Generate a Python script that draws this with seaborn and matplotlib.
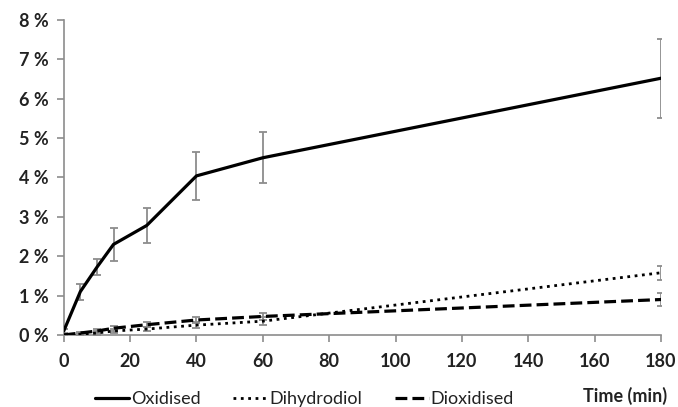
import numpy as np
import pandas as pd
import matplotlib
matplotlib.use('Agg')
import matplotlib.pyplot as plt
import seaborn as sns
from matplotlib.ticker import FuncFormatter

# time points (min)
time = [0, 5, 10, 15, 25, 40, 60, 180]

# percentages
oxidised = [0.1, 1.1, 1.72, 2.3, 2.78, 4.04, 4.5, 6.52]
oxidised_err = [0.05, 0.2, 0.2, 0.42, 0.45, 0.6, 0.65, 1.0]
dihydrodiol = [0.0, 0.02, 0.05, 0.1, 0.15, 0.25, 0.35, 1.58]
dihydrodiol_err = [0.02, 0.03, 0.04, 0.05, 0.06, 0.08, 0.1, 0.18]
dioxidised = [0.0, 0.05, 0.1, 0.17, 0.26, 0.38, 0.47, 0.9]
dioxidised_err = [0.02, 0.03, 0.04, 0.06, 0.07, 0.08, 0.1, 0.16]

series = ['Oxidised', 'Dihydrodiol', 'Dioxidised']

df = pd.DataFrame({
    'time': time * 3,
    'value': oxidised + dihydrodiol + dioxidised,
    'err': oxidised_err + dihydrodiol_err + dioxidised_err,
    'series': [s for s in series for _ in time],
})

sns.set_style('white')
plt.rcParams['font.family'] = ['Lato', 'DejaVu Sans']

fig = plt.figure(figsize=(6.78, 4.07), dpi=100)
ax = fig.add_axes([0.094, 0.177, 0.881, 0.774])

styles = {'Oxidised': '-', 'Dihydrodiol': ':', 'Dioxidised': '--'}
widths = {'Oxidised': 2.3, 'Dihydrodiol': 2.0, 'Dioxidised': 2.3}

# grey error bars under the black lines
for s in series:
    sub = df[df['series'] == s]
    ax.errorbar(sub['time'], sub['value'], yerr=sub['err'], fmt='none',
                ecolor='#8c8c8c', elinewidth=1.3, capsize=2.7, capthick=1.3, zorder=2)

for s in series:
    sub = df[df['series'] == s]
    sns.lineplot(data=sub, x='time', y='value', ax=ax, color='black',
                 linestyle=styles[s], linewidth=widths[s], label=s, zorder=3)

ax.set_xlim(0, 180)
ax.set_ylim(0, 8)
ax.set_xticks(np.arange(0, 181, 20))
ax.set_yticks(np.arange(0, 9, 1))
ax.yaxis.set_major_formatter(FuncFormatter(lambda v, p: f'{int(v)} %'))
ax.set_xlabel('')
ax.set_ylabel('')

for sp in ['top', 'right']:
    ax.spines[sp].set_visible(False)
for sp in ['left', 'bottom']:
    ax.spines[sp].set_color('#8c8c8c')
    ax.spines[sp].set_linewidth(1.2)

ax.tick_params(axis='both', which='major', direction='out', length=5, width=1.2,
               color='#8c8c8c', labelsize=13, labelcolor='#222222')
ax.tick_params(axis='x', bottom=True, pad=8)
ax.tick_params(axis='y', left=True, pad=6)
for lab in ax.get_xticklabels() + ax.get_yticklabels():
    lab.set_fontweight('bold')

handles, labels = ax.get_legend_handles_labels()
ax.get_legend().remove()
fig.legend(handles, labels, loc='center left', bbox_to_anchor=(0.14, 0.02),
           ncol=3, frameon=False, fontsize=13, handlelength=1.9,
           handletextpad=0.1, columnspacing=1.8, borderpad=0, borderaxespad=0,
           labelcolor='#222222')

fig.text(0.984, 0.027, 'Time (min)', ha='right', va='center', fontsize=13,
         fontweight='bold', color='#222222')

fig.savefig('out.png', dpi=100)
